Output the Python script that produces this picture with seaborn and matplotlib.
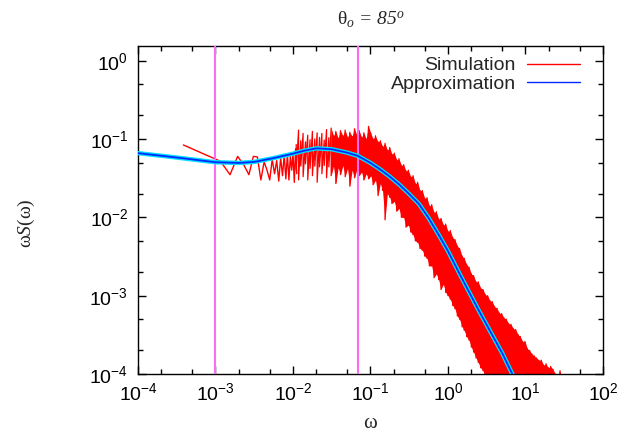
import numpy as np
import matplotlib
matplotlib.use('Agg')
import matplotlib.pyplot as plt
import seaborn as sns
from matplotlib.lines import Line2D
from matplotlib.ticker import LogLocator, NullFormatter

# %% data
# smooth approximation curve
approx_w = [1e-4, 3.16e-4, 1e-3, 2e-3, 3.16e-3, 5.6e-3, 1e-2, 1.4e-2, 2e-2, 3.16e-2,
            5e-2, 6.84e-2, 0.1, 0.133, 0.178, 0.237, 0.316, 0.422, 0.562, 0.75,
            1.0, 1.41, 1.98, 2.51, 3.48, 5.0, 6.76, 7.94]
approx_s = [0.066, 0.058, 0.0505, 0.0495, 0.051, 0.057, 0.065, 0.071, 0.076, 0.074,
            0.067, 0.061, 0.0495, 0.041, 0.033, 0.026, 0.0198, 0.0148, 0.0098, 0.0061,
            0.0037, 0.0019, 0.0010, 6.4e-4, 3.55e-4, 1.85e-4, 1.0e-4, 7.4e-5]

# low frequency simulation points (individual zig-zag)
sim_w = [3.85e-4, 7.7e-4, 1.16e-3, 1.54e-3, 1.93e-3, 2.31e-3, 2.70e-3, 3.08e-3, 3.47e-3,
         3.85e-3, 4.24e-3, 4.62e-3, 5.01e-3, 5.39e-3, 5.78e-3, 6.16e-3, 6.55e-3, 6.93e-3,
         7.32e-3, 7.70e-3, 8.09e-3, 8.47e-3, 8.86e-3, 9.24e-3, 9.63e-3, 1.00e-2, 1.04e-2,
         1.08e-2, 1.12e-2]
sim_s = [0.084, 0.062, 0.052, 0.035, 0.060, 0.047, 0.035, 0.060, 0.059, 0.030, 0.051,
         0.040, 0.030, 0.055, 0.036, 0.053, 0.029, 0.058, 0.034, 0.062, 0.031, 0.064,
         0.030, 0.060, 0.040, 0.066, 0.028, 0.075, 0.036]

# dense part of the simulation: upper / lower envelope of the noise band
band_w = [0.0110, 0.0118, 0.0126, 0.0135, 0.0145, 0.0155, 0.0166, 0.0178, 0.0191, 0.0205,
          0.0220, 0.0236, 0.0253, 0.0271, 0.0290, 0.0311, 0.0333, 0.0357, 0.0383, 0.0410,
          0.0440, 0.0471, 0.0505, 0.0541, 0.0580, 0.0622, 0.0667, 0.0715, 0.0766, 0.0821,
          0.0880, 0.0944, 0.101, 0.108, 0.116, 0.125, 0.134, 0.143, 0.154, 0.165,
          0.177, 0.189, 0.203, 0.218, 0.233, 0.250, 0.268, 0.287, 0.308, 0.330,
          0.354, 0.379, 0.406, 0.435, 0.467, 0.500, 0.536, 0.574, 0.616, 0.660,
          0.707, 0.758, 0.812, 0.871, 0.933, 1.00, 1.07, 1.15, 1.23, 1.32,
          1.41, 1.52, 1.62, 1.74, 1.87, 2.00, 2.14, 2.30, 2.46, 2.64,
          2.83, 3.03, 3.25, 3.48, 3.73, 4.00, 4.29, 4.59, 4.92, 5.28,
          5.66, 6.06, 6.50, 6.96, 7.46, 8.00, 8.58, 9.19, 9.85, 10.6,
          11.3, 12.1, 13.0, 13.9, 14.9, 16.0, 17.1, 18.4, 19.7, 21.1,
          22.6, 24.3, 26.0, 27.9, 29.9]
band_hi = [0.085, 0.130, 0.095, 0.118, 0.092, 0.112, 0.098, 0.125, 0.100, 0.120,
           0.105, 0.118, 0.097, 0.132, 0.104, 0.138, 0.110, 0.125, 0.102, 0.128,
           0.110, 0.130, 0.105, 0.122, 0.108, 0.135, 0.112, 0.128, 0.105, 0.120,
           0.100, 0.145, 0.118, 0.100, 0.110, 0.092, 0.095, 0.080, 0.088, 0.072,
           0.078, 0.064, 0.066, 0.054, 0.056, 0.046, 0.047, 0.039, 0.040, 0.033,
           0.034, 0.027, 0.028, 0.022, 0.022, 0.0175, 0.0178, 0.0140, 0.0145, 0.0115,
           0.0118, 0.0095, 0.0097, 0.0080, 0.0082, 0.0066, 0.0068, 0.0055, 0.0052, 0.0043,
           0.0040, 0.0032, 0.0030, 0.0025, 0.0023, 0.0019, 0.0018, 0.0015, 0.0015, 0.00125,
           0.00120, 0.00103, 0.00100, 0.00086, 0.00084, 0.00072, 0.00069, 0.00060, 0.00059, 0.00052,
           0.00050, 0.00044, 0.00043, 0.00038, 0.00037, 0.00032, 0.00030, 0.00026, 0.00026, 0.00021,
           0.00020, 0.00018, 0.00017, 0.00016, 0.00015, 0.00015, 0.00013, 0.000135, 0.000120, 0.000125,
           0.000115, 0.000100, 0.000090, 0.000110, 0.000080]
band_lo = [0.040, 0.030, 0.045, 0.033, 0.048, 0.030, 0.042, 0.034, 0.045, 0.028,
           0.044, 0.036, 0.046, 0.032, 0.044, 0.034, 0.045, 0.027, 0.043, 0.035,
           0.046, 0.033, 0.042, 0.025, 0.040, 0.032, 0.041, 0.034, 0.038, 0.030,
           0.036, 0.031, 0.034, 0.026, 0.030, 0.019, 0.027, 0.022, 0.0093, 0.020,
           0.018, 0.015, 0.016, 0.012, 0.013, 0.010, 0.0100, 0.0075, 0.0080, 0.0065,
           0.0060, 0.0050, 0.0048, 0.0040, 0.0038, 0.0032, 0.0030, 0.0024, 0.0024, 0.0017,
           0.0019, 0.0016, 0.0012, 0.0014, 0.0011, 0.0010, 0.00090, 0.00075, 0.00068, 0.00055,
           0.00050, 0.00040, 0.00036, 0.00030, 0.00027, 0.00022, 0.00019, 0.00016, 0.00014, 0.00012,
           0.00011, 0.00009, 5e-5, 5e-5, 5e-5, 5e-5, 5e-5, 5e-5, 5e-5, 5e-5,
           5e-5, 5e-5, 5e-5, 5e-5, 5e-5, 5e-5, 5e-5, 5e-5, 5e-5, 5e-5,
           5e-5, 5e-5, 5e-5, 5e-5, 5e-5, 5e-5, 5e-5, 5e-5, 5e-5, 5e-5,
           5e-5, 5e-5, 5e-5, 5e-5, 5e-5]
fill_start = 15  # below this the band is sparse enough to show single spikes only

# vertical marker lines
vline_w = [1e-3, 0.0684]

series_labels = ['Simulation', 'Approximation']
title_text = r'$\mathrm{\theta}_{o}$ = 85$^{o}$'

# %% style
sns.set_theme(style='ticks')
plt.rcParams['font.family'] = ['Liberation Sans', 'DejaVu Sans']
plt.rcParams['axes.linewidth'] = 1.0
plt.rcParams['mathtext.rm'] = 'Liberation Serif'
plt.rcParams['mathtext.it'] = 'Liberation Serif:italic'
plt.rcParams['mathtext.bf'] = 'Liberation Serif:bold'

fig = plt.figure(figsize=(6.18, 4.33), dpi=100)
ax = fig.add_axes([0.2233, 0.1363, 0.7524, 0.7575])
ax.set(xscale='log', yscale='log')

red = '#ff0000'
blue = '#0028ff'
# dense noise band
ax.fill_between(band_w[fill_start:], band_lo[fill_start:], band_hi[fill_start:],
                color=red, lw=0, zorder=2)
zig_w = np.repeat(band_w, 2)
zig_s = np.ravel(np.column_stack([band_hi, band_lo]))
sns.lineplot(x=zig_w, y=zig_s, ax=ax, estimator=None, sort=False, color=red, lw=0.9, zorder=2)
sns.lineplot(x=sim_w, y=sim_s, ax=ax, estimator=None, sort=False, color=red, lw=1.0, zorder=2)

for w in vline_w:
    ax.axvline(w, color='#f86cf8', lw=1.5, zorder=3)

# approximation: cyan under, blue core
sns.lineplot(x=approx_w, y=approx_s, ax=ax, estimator=None, sort=False, color='#00e0ff', lw=3.2, zorder=4)
sns.lineplot(x=approx_w, y=approx_s, ax=ax, estimator=None, sort=False, color=blue, lw=1.3, zorder=5)

ax.set_xlim(1e-4, 1e2)
ax.set_ylim(1e-4, 1.54)

ax.xaxis.set_major_locator(LogLocator(base=10, numticks=20))
ax.yaxis.set_major_locator(LogLocator(base=10, numticks=20))
ax.xaxis.set_minor_locator(LogLocator(base=10, subs=(2, 5), numticks=20))
ax.yaxis.set_minor_locator(LogLocator(base=10, subs=(2, 5), numticks=20))
ax.xaxis.set_minor_formatter(NullFormatter())
ax.yaxis.set_minor_formatter(NullFormatter())
ax.tick_params(which='both', direction='in', top=True, right=True, colors='black',
               labelsize=14, width=1)
ax.tick_params(which='major', length=6)
ax.tick_params(which='minor', length=3.5)
ax.tick_params(axis='x', which='major', pad=6)
ax.tick_params(axis='y', which='major', pad=7)
for sp in ax.spines.values():
    sp.set_color('black')
    sp.set_visible(True)

ax.set_title(title_text, fontsize=14, family='Liberation Serif', style='italic',
             math_fontfamily='custom', pad=15)
ax.set_xlabel(r'$\mathrm{\omega}$', fontsize=15, math_fontfamily='custom')
ax.set_ylabel(r'$\mathrm{\omega}\mathit{S}\mathrm{(\omega)}$', fontsize=14, math_fontfamily='custom')
ax.xaxis.set_label_coords(0.5, -0.12)
ax.yaxis.set_label_coords(-0.217, 0.46)

handles = [Line2D([], [], color=red, lw=1.0), Line2D([], [], color=blue, lw=1.0)]
ax.legend(handles, series_labels, loc='upper right', bbox_to_anchor=(0.9505, 0.967),
          frameon=False, markerfirst=False, fontsize=14, handlelength=2.7,
          handletextpad=0.6, labelspacing=0.05, borderaxespad=0, borderpad=0)

fig.savefig('out.png', dpi=100)
